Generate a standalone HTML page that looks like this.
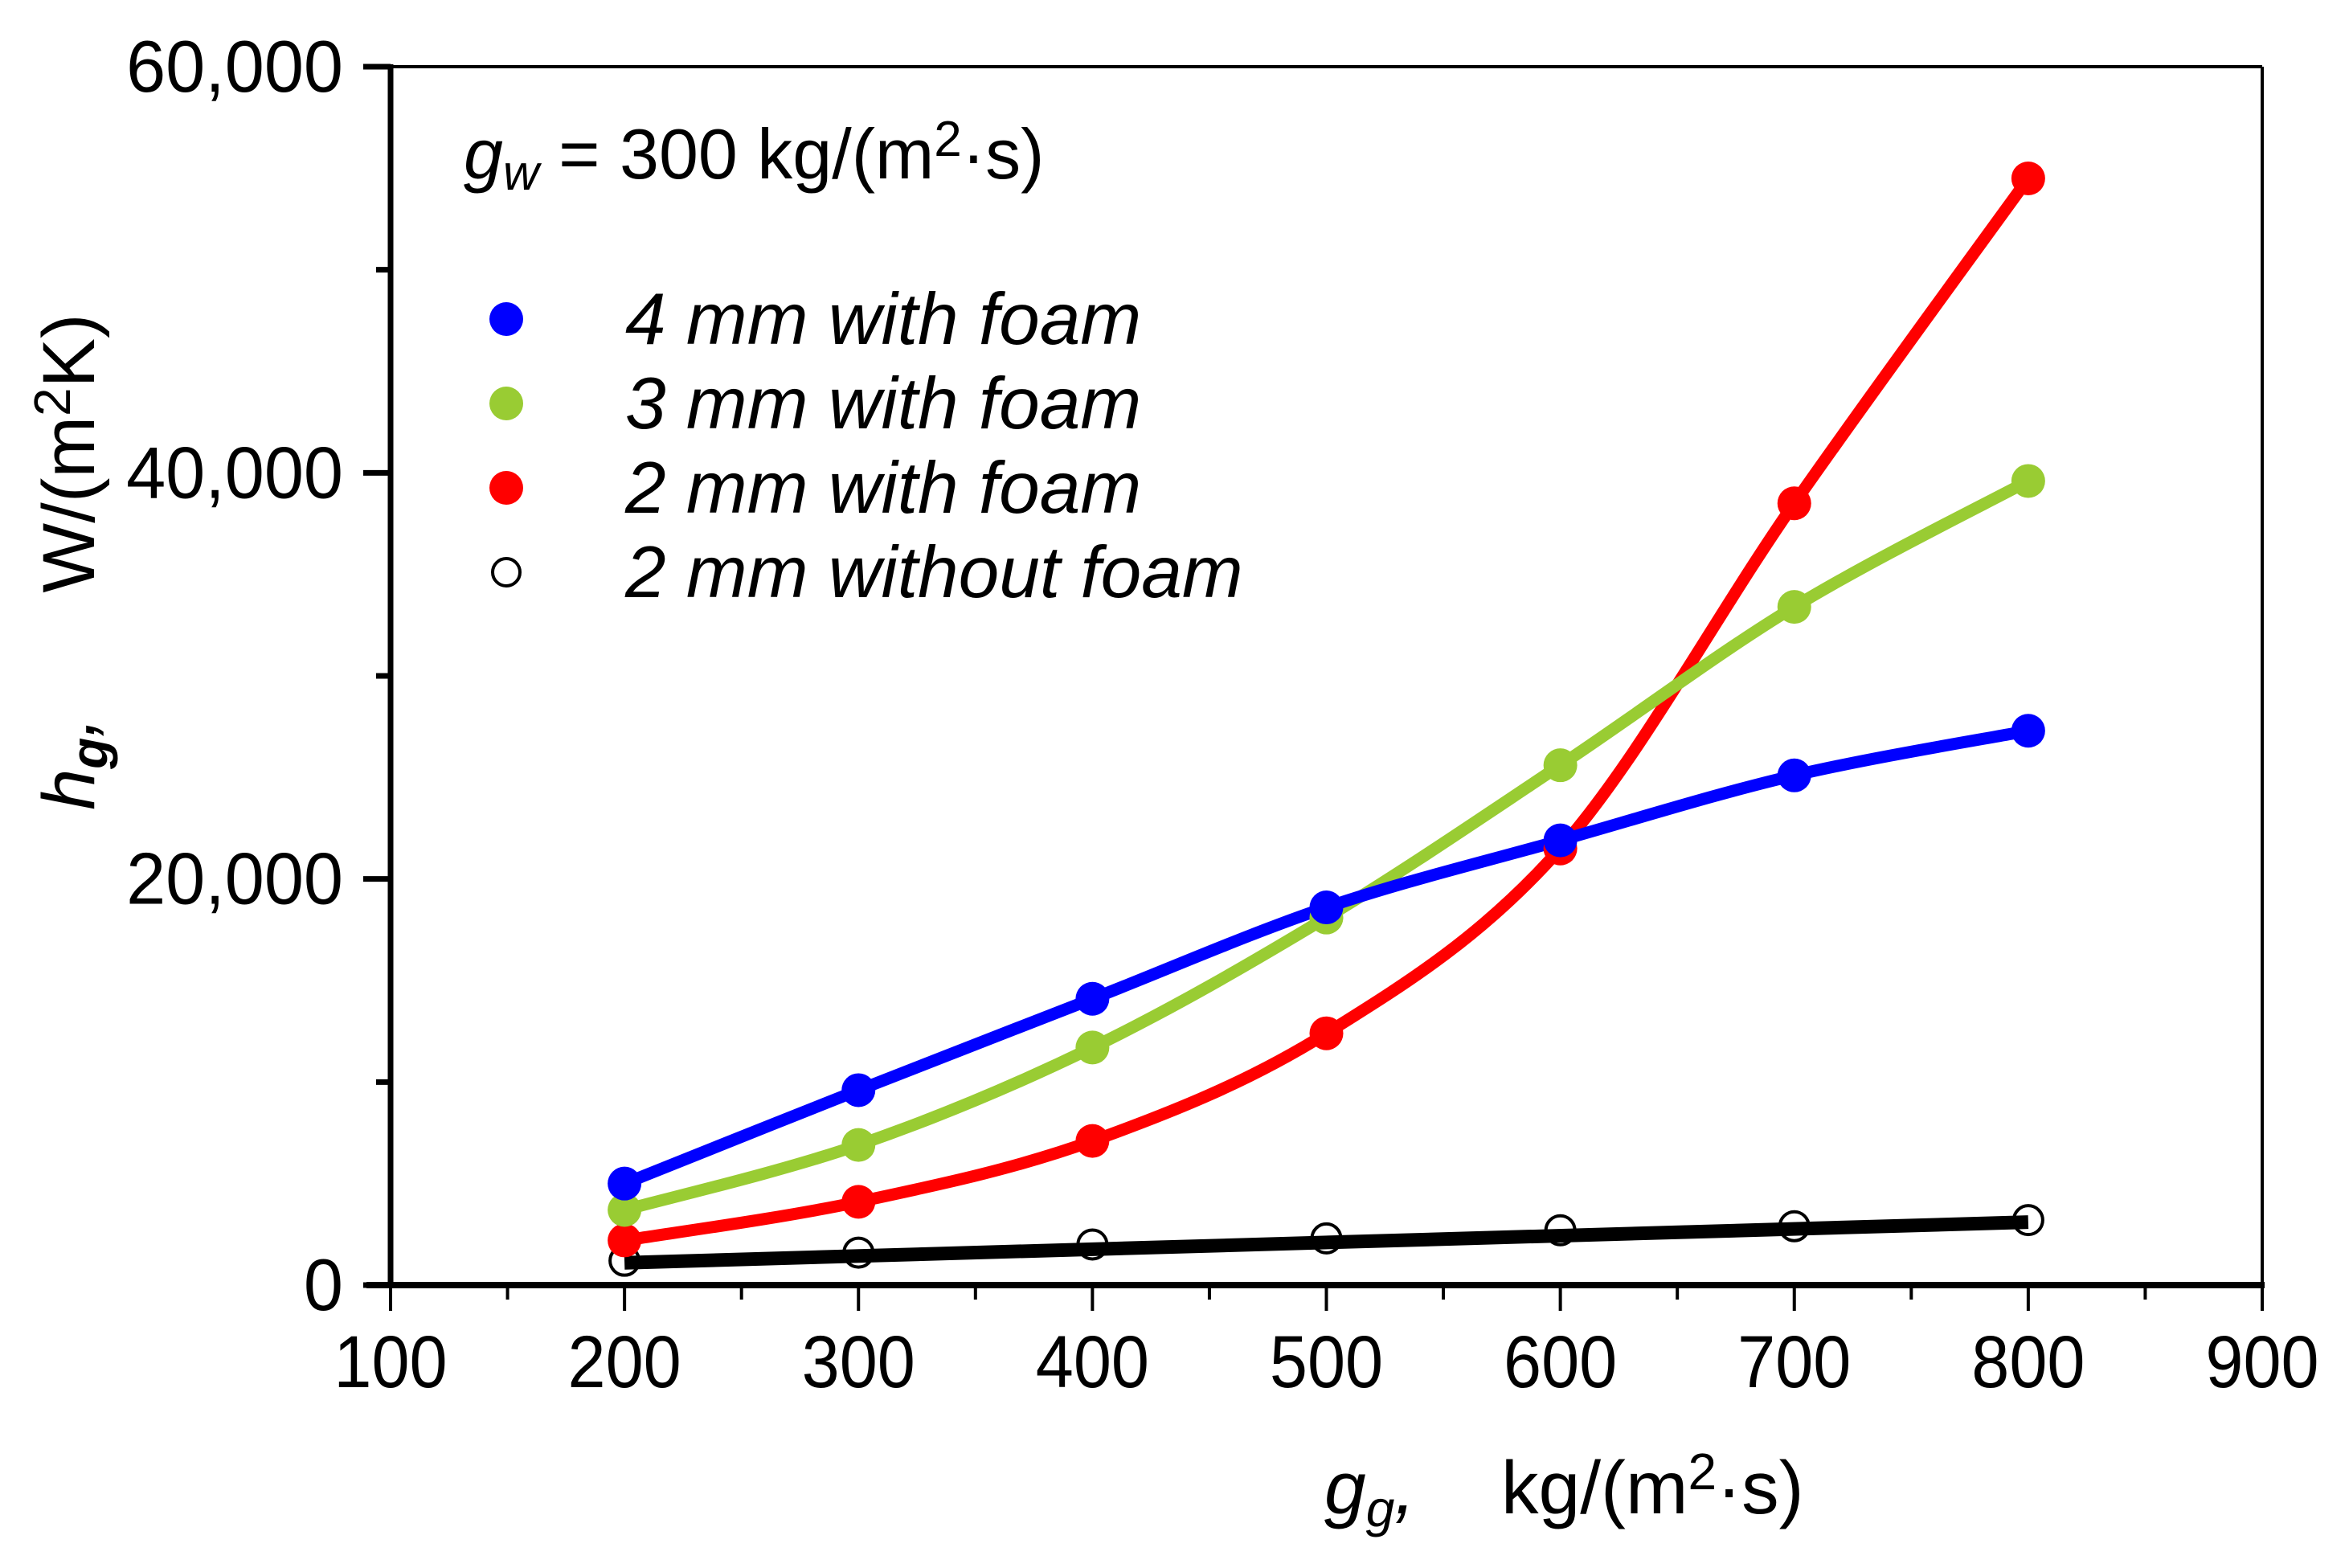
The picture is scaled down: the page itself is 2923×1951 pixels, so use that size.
<!DOCTYPE html>
<html><head><meta charset="utf-8"><style>
html,body{margin:0;padding:0;background:#fff;}
svg{display:block;font-family:"Liberation Sans",Arial,sans-serif;}
</style></head><body>
<svg id="chart" width="2923" height="1951" viewBox="0 0 2923 1951" xmlns="http://www.w3.org/2000/svg">
<rect x="0" y="0" width="2923" height="1951" fill="#fff"/>
<g id="grid"></g>
<g id="series"></g>
<g id="legend">
  <text x="577" y="222" font-size="88"><tspan font-style="italic">g</tspan><tspan font-style="italic" font-size="62" dy="14">w</tspan><tspan dy="-14"> = 300 kg/(m</tspan><tspan font-size="62" dy="-28">2</tspan><tspan dy="28">·s)</tspan></text>
</g>
<text transform="translate(117,564) rotate(-90)" font-size="92" text-anchor="middle">W/(m<tspan font-size="64" dy="-30">2</tspan><tspan dy="30">K)</tspan></text>
<text transform="translate(117,950) rotate(-90)" font-size="92" text-anchor="middle"><tspan font-style="italic">h</tspan><tspan font-style="italic" font-weight="bold" font-size="64" dy="16">g</tspan><tspan dy="-16" font-style="italic">,</tspan></text>
<text x="1648" y="1883" font-size="93"><tspan font-style="italic">g</tspan><tspan font-style="italic" font-size="64" dy="16">g</tspan><tspan dy="-16" font-style="italic">,</tspan></text>
<text x="1868" y="1883" font-size="93">kg/(m<tspan font-size="64" dy="-30">2</tspan><tspan dy="30">·s)</tspan></text>
</svg>
<script>
const xValues = [200, 300, 400, 500, 600, 700, 800];
const blueValues = [5000, 9600, 14100, 18600, 21900, 25100, 27300];
const greenValues = [3700, 6900, 11700, 18100, 25600, 33400, 39600];
const redValues = [2200, 4100, 7100, 12400, 21500, 38500, 54500];
const blackValues = [1200, 1600, 2000, 2300, 2700, 2900, 3200];
const blackFit = [1100, 3100];
const xTicks = [100, 200, 300, 400, 500, 600, 700, 800, 900];
const yTicks = [0, 20000, 40000, 60000];
const yTickLabels = ["0", "20,000", "40,000", "60,000"];
const legendLabels = ["4 mm with foam", "3 mm with foam", "2 mm with foam", "2 mm without foam"];

const NS = "http://www.w3.org/2000/svg";
const L = 486, R = 2815, T = 83, B = 1599;
const X = v => L + (v - 100) / 800 * (R - L);
const Y = v => B - v / 60000 * (B - T);
function mk(tag, attrs, parent) {
  const e = document.createElementNS(NS, tag);
  for (const k in attrs) e.setAttribute(k, attrs[k]);
  parent.appendChild(e);
  return e;
}
const grid = document.getElementById('grid');
const ser = document.getElementById('series');
const leg = document.getElementById('legend');

let fr = mk('line', {x1: L, y1: T, x2: R, y2: T, stroke: '#000', 'stroke-width': 4}, grid);


fr = mk('line', {x1: R, y1: T, x2: R, y2: B, stroke: '#000', 'stroke-width': 4}, grid);


fr = mk('line', {x1: L, y1: T - 3, x2: L, y2: B + 4, stroke: '#000', 'stroke-width': 7}, grid);


fr = mk('line', {x1: L - 30, y1: B, x2: R + 3, y2: B, stroke: '#000', 'stroke-width': 8}, grid);



for (let v = 100; v <= 900; v += 50) {
  const major = v % 100 === 0;
  const t = mk('line', {x1: X(v), y1: B, x2: X(v), y2: B + (major ? 32 : 18), stroke: '#000', 'stroke-width': 4}, grid);
  
  
}
xTicks.forEach(v => {
  const t = mk('text', {transform: `translate(${X(v)},1726) scale(0.92,1)`, x: 0, y: 0, 'font-size': 92, 'text-anchor': 'middle'}, grid);
  t.textContent = v;
  
  
});
for (let v = 0; v <= 60000; v += 10000) {
  const major = v % 20000 === 0;
  const t = mk('line', {x1: L - (major ? 34 : 18), y1: Y(v), x2: L, y2: Y(v), stroke: '#000', 'stroke-width': 7}, grid);
  
  
}
yTicks.forEach((v, i) => {
  const t = mk('text', {transform: `translate(427,${Y(v) + 31}) scale(0.97,1)`, x: 0, y: 0, 'font-size': 91, 'text-anchor': 'end'}, grid);
  t.textContent = yTickLabels[i];
  
  
});

function smoothPath(xs, ys) {
  const p = xs.map((x, i) => [X(x), Y(ys[i])]);
  let d = `M${p[0][0]},${p[0][1]}`;
  for (let i = 0; i < p.length - 1; i++) {
    const p0 = p[i - 1] || p[i], p1 = p[i], p2 = p[i + 1], p3 = p[i + 2] || p[i + 1];
    const c1 = [p1[0] + (p2[0] - p0[0]) / 6, p1[1] + (p2[1] - p0[1]) / 6];
    const c2 = [p2[0] - (p3[0] - p1[0]) / 6, p2[1] - (p3[1] - p1[1]) / 6];
    d += ` C${c1[0]},${c1[1]} ${c2[0]},${c2[1]} ${p2[0]},${p2[1]}`;
  }
  return d;
}

let bl = mk('line', {x1: X(xValues[0]), y1: Y(blackFit[0]), x2: X(xValues[xValues.length - 1]), y2: Y(blackFit[1]), stroke: '#000', 'stroke-width': 17}, ser);


xValues.forEach((x, i) => {
  const c = mk('circle', {cx: X(x), cy: Y(blackValues[i]), r: 18, fill: 'none', stroke: '#000', 'stroke-width': 4}, ser);
  
  
});

const colored = [
  {vals: redValues, color: '#ff0000', name: '2mm-with-foam'},
  {vals: greenValues, color: '#99cc33', name: '3mm-with-foam'},
  {vals: blueValues, color: '#0000ff', name: '4mm-with-foam'}
];
colored.forEach(s => {
  const p = mk('path', {d: smoothPath(xValues, s.vals), fill: 'none', stroke: s.color, 'stroke-width': 15, 'stroke-linejoin': 'round'}, ser);
  
  
});
colored.forEach(s => {
  xValues.forEach((x, i) => {
    const c = mk('circle', {cx: X(x), cy: Y(s.vals[i]), r: 21, fill: s.color}, ser);
    
    
  });
});

const legColors = ['#0000ff', '#99cc33', '#ff0000', null];
legendLabels.forEach((lab, i) => {
  const y = 397 + i * 105;
  let m;
  if (legColors[i]) m = mk('circle', {cx: 630, cy: y, r: 21, fill: legColors[i]}, leg);
  else m = mk('circle', {cx: 630, cy: y, r: 17, fill: 'none', stroke: '#000', 'stroke-width': 4}, leg);
  
  
  const t = mk('text', {x: 778, y: y + 31, 'font-size': 91, 'font-style': 'italic'}, leg);
  t.textContent = lab;
  
  
});
</script>
</body></html>
